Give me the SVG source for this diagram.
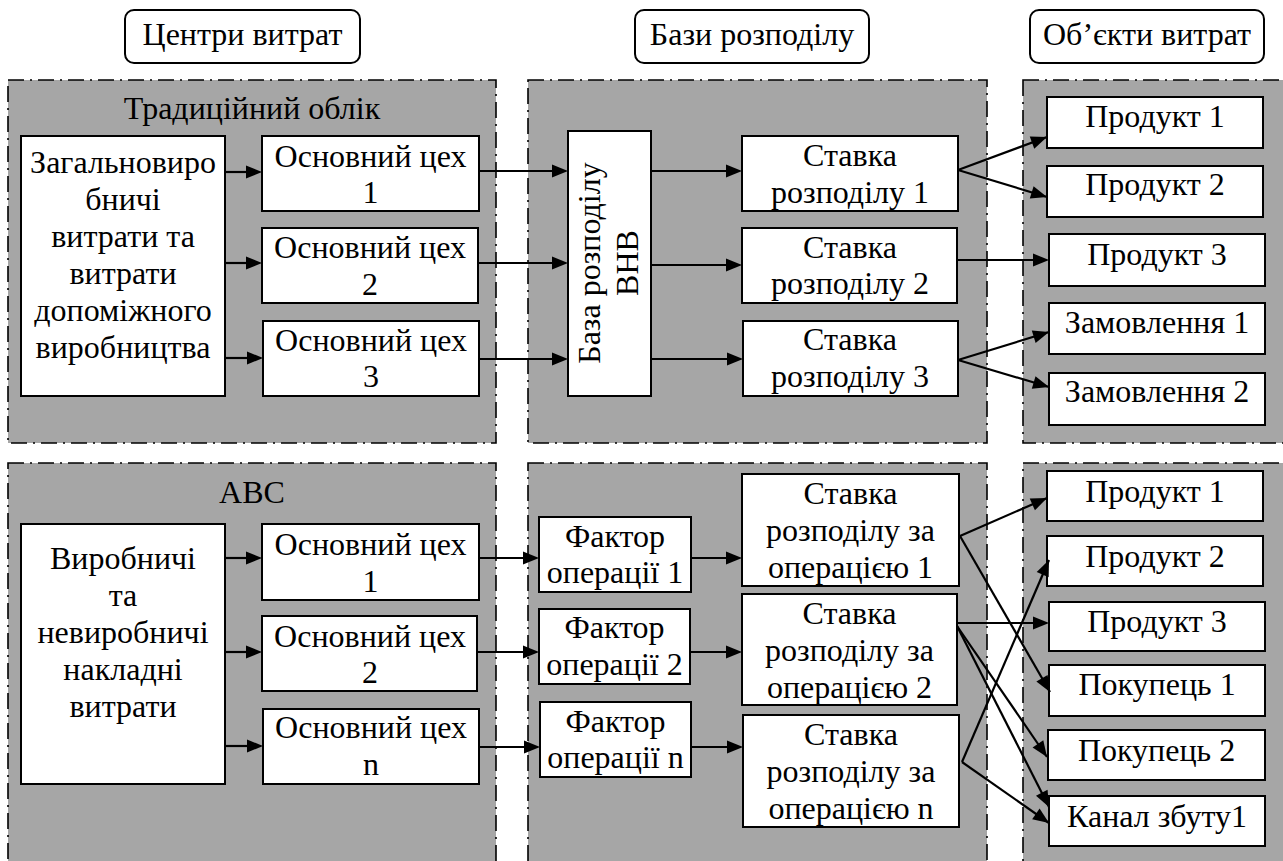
<svg xmlns="http://www.w3.org/2000/svg" xmlns:xlink="http://www.w3.org/1999/xlink" width="1283" height="861" viewBox="0 0 1283 861">
  <defs>
    <style>
      .panel { fill: #a6a6a6; stroke: #000; stroke-width: 1.6; stroke-dasharray: 16 6 2 6; }
      .box { fill: #fff; stroke: #000; stroke-width: 2; }
      .hdr { fill: #fff; stroke: #000; stroke-width: 2; }
      .conn line { stroke: #000; stroke-width: 2.2; }
      .lbl { font-family: 'Liberation Serif', serif; font-size: 32px; text-anchor: middle; fill: #000; }
    </style>
    <!-- arrowhead, tip at the origin, pointing along +x -->
    <path id="ah" d="M0,0 L-16,-6.5 L-16,6.5 z" fill="#000"/>
  </defs>
  <rect width="1283" height="861" fill="#fff"/>

  <!-- column headers -->
  <g id="hdr-centers"><rect class="hdr" x="125" y="10" width="235" height="53" rx="9"/><text class="lbl" x="242.5" y="45">Центри витрат</text></g>
  <g id="hdr-bases"><rect class="hdr" x="635" y="10" width="234" height="53" rx="9"/><text class="lbl" x="752" y="45">Бази розподілу</text></g>
  <g id="hdr-objects"><rect class="hdr" x="1030" y="10" width="234" height="53" rx="9"/><text class="lbl" x="1147" y="45">Об’єкти витрат</text></g>

  <!-- dash-dot panels -->
  <g id="panels">
    <rect class="panel" x="8" y="80" width="488" height="363"/>
    <rect class="panel" x="528" y="80" width="459" height="363"/>
    <rect class="panel" x="1023" y="80" width="290" height="363"/>
    <rect class="panel" x="8" y="463" width="488" height="430"/>
    <rect class="panel" x="528" y="463" width="459" height="430"/>
    <rect class="panel" x="1023" y="463" width="290" height="430"/>
    <text class="lbl" x="252" y="119">Традиційний облік</text>
    <text class="lbl" x="252" y="503">ABC</text>
  </g>

  <!-- traditional costing -->
  <g id="t-src"><rect class="box" x="21" y="136" width="204" height="260"/>
    <text class="lbl"><tspan x="123" y="173">Загальновиро</tspan><tspan x="123" y="210">бничі</tspan><tspan x="123" y="247">витрати та</tspan><tspan x="123" y="284">витрати</tspan><tspan x="123" y="321">допоміжного</tspan><tspan x="123" y="358">виробництва</tspan></text></g>
  <g id="t-c1"><rect class="box" x="262" y="136" width="217" height="75"/><text class="lbl"><tspan x="370.5" y="167">Основний цех</tspan><tspan x="370.5" y="203">1</tspan></text></g>
  <g id="t-c2"><rect class="box" x="262" y="228" width="216" height="75"/><text class="lbl"><tspan x="370" y="258">Основний цех</tspan><tspan x="370" y="295">2</tspan></text></g>
  <g id="t-c3"><rect class="box" x="263" y="321" width="216" height="75"/><text class="lbl"><tspan x="371" y="351">Основний цех</tspan><tspan x="371" y="387">3</tspan></text></g>
  <g id="t-base"><rect class="box" x="568" y="131" width="83" height="265"/>
    <text class="lbl" transform="translate(609,263) rotate(-90)"><tspan x="0" y="-9">База розподілу</tspan><tspan x="0" y="29">ВНВ</tspan></text></g>
  <g id="t-r1"><rect class="box" x="742" y="136" width="216" height="75"/><text class="lbl"><tspan x="850" y="166">Ставка</tspan><tspan x="850" y="203">розподілу 1</tspan></text></g>
  <g id="t-r2"><rect class="box" x="742" y="228" width="215" height="75"/><text class="lbl"><tspan x="850" y="258">Ставка</tspan><tspan x="850" y="294">розподілу 2</tspan></text></g>
  <g id="t-r3"><rect class="box" x="743" y="321" width="215" height="75"/><text class="lbl"><tspan x="850" y="350">Ставка</tspan><tspan x="850" y="387">розподілу 3</tspan></text></g>
  <g id="t-p1"><rect class="box" x="1047" y="97" width="216" height="51"/><text class="lbl" x="1155" y="127">Продукт 1</text></g>
  <g id="t-p2"><rect class="box" x="1047" y="166" width="216" height="51"/><text class="lbl" x="1155" y="195">Продукт 2</text></g>
  <g id="t-p3"><rect class="box" x="1049" y="234" width="216" height="52"/><text class="lbl" x="1157" y="265">Продукт 3</text></g>
  <g id="t-z1"><rect class="box" x="1049" y="303" width="216" height="51"/><text class="lbl" x="1157" y="333">Замовлення 1</text></g>
  <g id="t-z2"><rect class="box" x="1049" y="373" width="216" height="52"/><text class="lbl" x="1157" y="402">Замовлення 2</text></g>

  <!-- activity-based costing -->
  <g id="b-src"><rect class="box" x="21" y="524" width="204" height="260"/>
    <text class="lbl"><tspan x="123" y="569">Виробничі</tspan><tspan x="123" y="606">та</tspan><tspan x="123" y="643">невиробничі</tspan><tspan x="123" y="680">накладні</tspan><tspan x="123" y="717">витрати</tspan></text></g>
  <g id="b-c1"><rect class="box" x="262" y="524" width="217" height="76"/><text class="lbl"><tspan x="370.5" y="555">Основний цех</tspan><tspan x="370.5" y="592">1</tspan></text></g>
  <g id="b-c2"><rect class="box" x="262" y="616" width="215" height="75"/><text class="lbl"><tspan x="370" y="647">Основний цех</tspan><tspan x="370" y="683">2</tspan></text></g>
  <g id="b-cn"><rect class="box" x="263" y="709" width="216" height="75"/><text class="lbl"><tspan x="371" y="738">Основний цех</tspan><tspan x="371" y="775">n</tspan></text></g>
  <g id="b-f1"><rect class="box" x="539" y="517" width="152" height="75"/><text class="lbl"><tspan x="615" y="547">Фактор</tspan><tspan x="615" y="583">операції 1</tspan></text></g>
  <g id="b-f2"><rect class="box" x="539" y="609" width="151" height="75"/><text class="lbl"><tspan x="614.5" y="638">Фактор</tspan><tspan x="614.5" y="675">операції 2</tspan></text></g>
  <g id="b-fn"><rect class="box" x="540" y="702" width="151" height="75"/><text class="lbl"><tspan x="615.5" y="732">Фактор</tspan><tspan x="615.5" y="768">операції n</tspan></text></g>
  <g id="b-r1"><rect class="box" x="742" y="474" width="217" height="112"/><text class="lbl"><tspan x="850.5" y="504">Ставка</tspan><tspan x="850.5" y="541">розподілу за</tspan><tspan x="850.5" y="578">операцією 1</tspan></text></g>
  <g id="b-r2"><rect class="box" x="742" y="594" width="215" height="111"/><text class="lbl"><tspan x="849.5" y="624">Ставка</tspan><tspan x="849.5" y="661">розподілу за</tspan><tspan x="849.5" y="698">операцією 2</tspan></text></g>
  <g id="b-rn"><rect class="box" x="743" y="715" width="216" height="112"/><text class="lbl"><tspan x="851" y="745">Ставка</tspan><tspan x="851" y="782">розподілу за</tspan><tspan x="851" y="819">операцією n</tspan></text></g>
  <g id="b-p1"><rect class="box" x="1047" y="471" width="216" height="50"/><text class="lbl" x="1155" y="502">Продукт 1</text></g>
  <g id="b-p2"><rect class="box" x="1047" y="536" width="216" height="50"/><text class="lbl" x="1155" y="567">Продукт 2</text></g>
  <g id="b-p3"><rect class="box" x="1049" y="602" width="216" height="49"/><text class="lbl" x="1157" y="632">Продукт 3</text></g>
  <g id="b-k1"><rect class="box" x="1049" y="665" width="216" height="51"/><text class="lbl" x="1157" y="695">Покупець 1</text></g>
  <g id="b-k2"><rect class="box" x="1048" y="730" width="217" height="50"/><text class="lbl" x="1156.5" y="761">Покупець 2</text></g>
  <g id="b-ch"><rect class="box" x="1049" y="796" width="216" height="50"/><text class="lbl" x="1157" y="827">Канал збуту1</text></g>

  <!-- connectors: shaft lines, then arrowheads placed at each tip -->
  <g id="connectors" class="conn">
    <line x1="225" y1="172" x2="250" y2="172"/>
    <line x1="225" y1="263" x2="250" y2="263"/>
    <line x1="225" y1="358" x2="251" y2="358"/>
    <line x1="479" y1="171" x2="556" y2="171"/>
    <line x1="478" y1="263" x2="556" y2="263"/>
    <line x1="479" y1="359" x2="556" y2="359"/>
    <line x1="651" y1="171" x2="730" y2="171"/>
    <line x1="651" y1="265" x2="730" y2="265"/>
    <line x1="651" y1="359" x2="731" y2="359"/>
    <line x1="958" y1="170" x2="1047" y2="137"/>
    <line x1="958" y1="170" x2="1047" y2="197"/>
    <line x1="957" y1="260" x2="1037" y2="260"/>
    <line x1="958" y1="360" x2="1049" y2="332"/>
    <line x1="958" y1="360" x2="1049" y2="387"/>

    <line x1="225" y1="558" x2="250" y2="558"/>
    <line x1="225" y1="652" x2="250" y2="652"/>
    <line x1="225" y1="746" x2="251" y2="746"/>
    <line x1="479" y1="558" x2="527" y2="558"/>
    <line x1="477" y1="652" x2="527" y2="652"/>
    <line x1="479" y1="747" x2="528" y2="747"/>
    <line x1="691" y1="558" x2="730" y2="558"/>
    <line x1="690" y1="652" x2="730" y2="652"/>
    <line x1="691" y1="747" x2="731" y2="747"/>
    <line x1="960" y1="536" x2="1047" y2="498"/>
    <line x1="960" y1="536" x2="1050" y2="692"/>
    <line x1="957" y1="623" x2="1037" y2="623"/>
    <line x1="957" y1="626" x2="1047" y2="757"/>
    <line x1="957" y1="626" x2="1049" y2="807"/>
    <line x1="962" y1="762" x2="1049" y2="560"/>
    <line x1="962" y1="762" x2="1049" y2="823"/>

    <use xlink:href="#ah" transform="translate(262,172)"/>
    <use xlink:href="#ah" transform="translate(262,263)"/>
    <use xlink:href="#ah" transform="translate(263,358)"/>
    <use xlink:href="#ah" transform="translate(568,171)"/>
    <use xlink:href="#ah" transform="translate(568,263)"/>
    <use xlink:href="#ah" transform="translate(568,359)"/>
    <use xlink:href="#ah" transform="translate(742,171)"/>
    <use xlink:href="#ah" transform="translate(742,265)"/>
    <use xlink:href="#ah" transform="translate(743,359)"/>
    <use xlink:href="#ah" transform="translate(1047,137) rotate(-20.3)"/>
    <use xlink:href="#ah" transform="translate(1047,197) rotate(16.9)"/>
    <use xlink:href="#ah" transform="translate(1049,260)"/>
    <use xlink:href="#ah" transform="translate(1049,332) rotate(-17.1)"/>
    <use xlink:href="#ah" transform="translate(1049,387) rotate(16.5)"/>

    <use xlink:href="#ah" transform="translate(262,558)"/>
    <use xlink:href="#ah" transform="translate(262,652)"/>
    <use xlink:href="#ah" transform="translate(263,746)"/>
    <use xlink:href="#ah" transform="translate(539,558)"/>
    <use xlink:href="#ah" transform="translate(539,652)"/>
    <use xlink:href="#ah" transform="translate(540,747)"/>
    <use xlink:href="#ah" transform="translate(742,558)"/>
    <use xlink:href="#ah" transform="translate(742,652)"/>
    <use xlink:href="#ah" transform="translate(743,747)"/>
    <use xlink:href="#ah" transform="translate(1047,498) rotate(-23.6)"/>
    <use xlink:href="#ah" transform="translate(1050,692) rotate(60)"/>
    <use xlink:href="#ah" transform="translate(1049,623)"/>
    <use xlink:href="#ah" transform="translate(1047,757) rotate(55.5)"/>
    <use xlink:href="#ah" transform="translate(1049,807) rotate(63.1)"/>
    <use xlink:href="#ah" transform="translate(1049,560) rotate(-66.7)"/>
    <use xlink:href="#ah" transform="translate(1049,823) rotate(35)"/>
  </g>
</svg>
